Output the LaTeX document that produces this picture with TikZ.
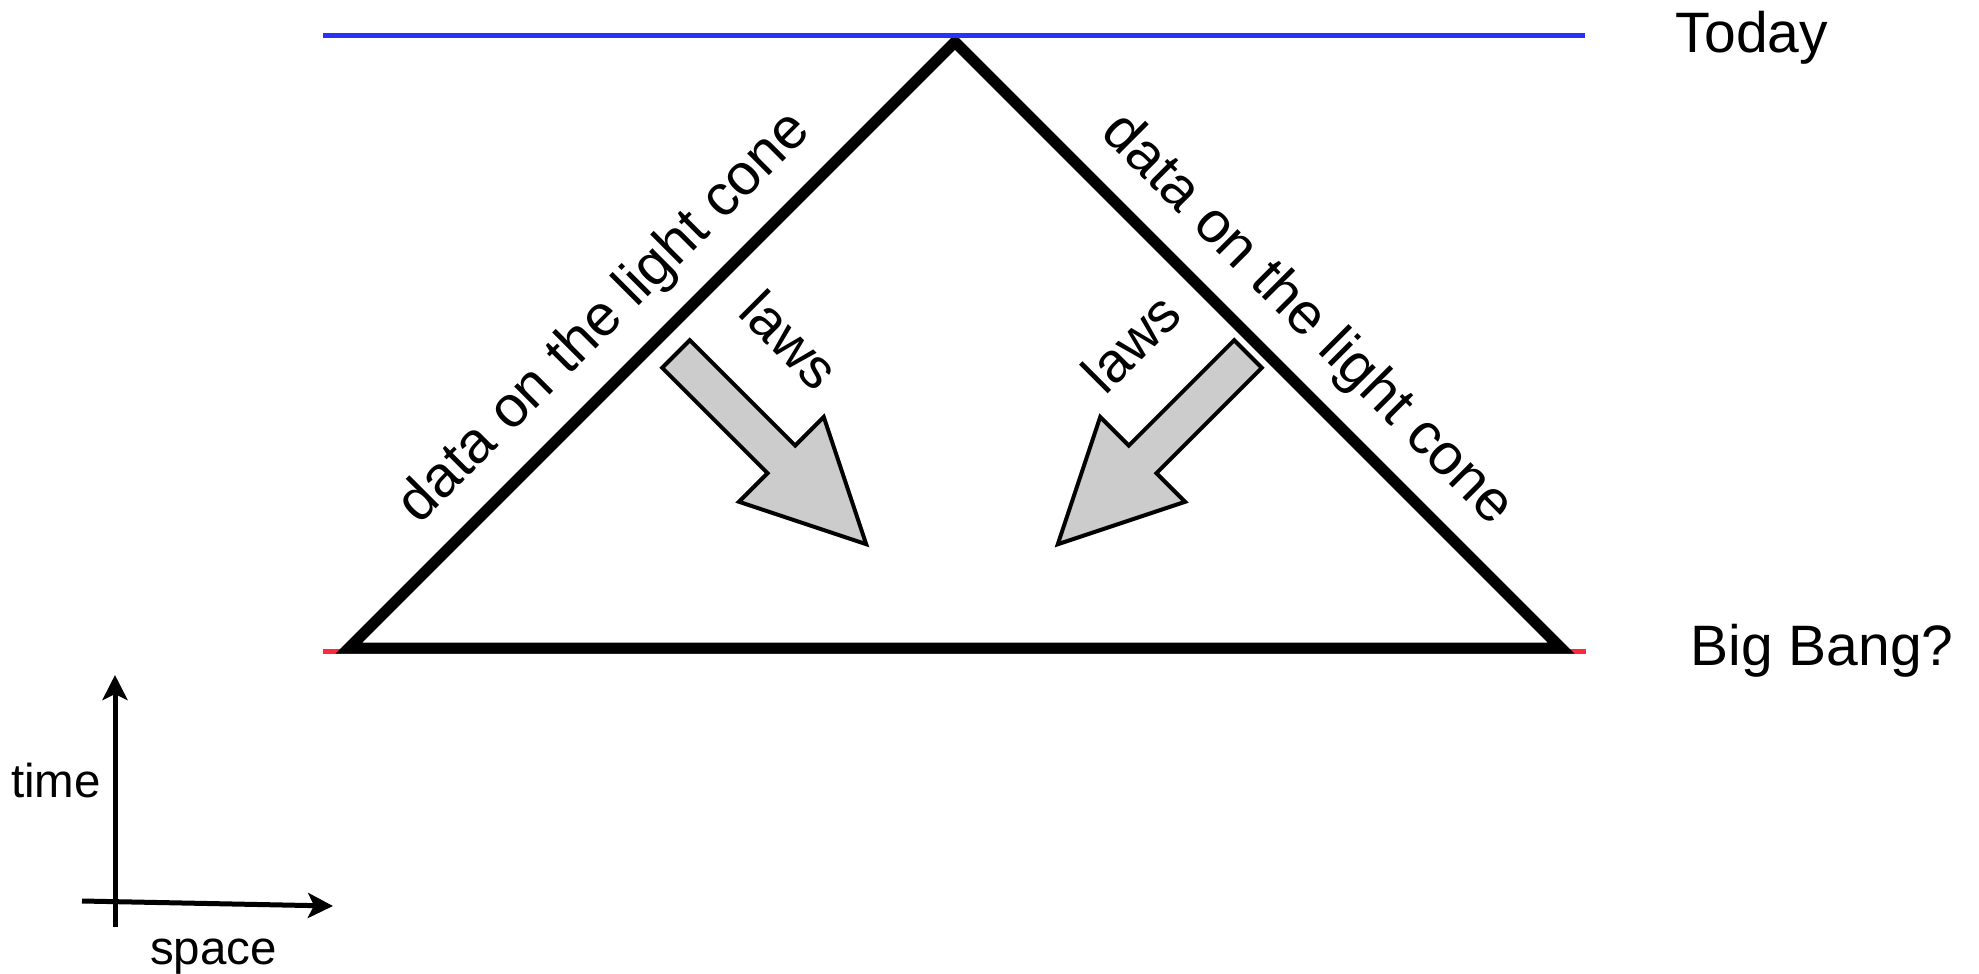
\documentclass[tikz,border=0pt]{standalone}
\usepackage{fontspec}
\setmainfont{Liberation Sans}
\usetikzlibrary{arrows.meta}
\definecolor{todayblue}{RGB}{40,50,250}
\definecolor{bangred}{RGB}{255,40,60}
\definecolor{lawgray}{RGB}{204,204,204}
\begin{document}
\begin{tikzpicture}[x=1pt,y=-1pt,
  cone/.style={line width=11pt, line join=miter},
  epoch/.style={line width=5pt},
  lawarrow/.style={fill=lawgray, draw=black, line width=4pt, line join=miter},
  axis/.style={line width=5pt, -{Stealth[length=25pt,width=25pt,inset=6pt]}},
  lbl/.style={inner sep=0pt, anchor=base},
  big/.style={lbl, font=\fontsize{57}{62}\selectfont},
  conelbl/.style={lbl, font=\fontsize{58}{62}\selectfont},
  lawlbl/.style={lbl, font=\fontsize{56}{60}\selectfont},
  axlbl/.style={lbl, font=\fontsize{47.5}{52}\selectfont}]
\useasboundingbox (0,0) rectangle (1979,974);

% light cone corners and epoch lines
\coordinate (apex) at (955,42);
\coordinate (bl) at (349,648);
\coordinate (br) at (1561,648);
\coordinate (todayL) at (323,36);
\coordinate (todayR) at (1585,36);
\coordinate (bangL) at (323,651.5);
\coordinate (bangR) at (1586,651.5);

\draw[epoch, bangred] (bangL) -- (bangR);
\draw[cone] (apex) -- (bl) -- (br) -- cycle;
\draw[epoch, todayblue] (todayL) -- (todayR);

% epoch labels
\node[big] (today) at (1752,53) {Today};
\node[big] (bang) at (1822,665) {Big Bang?};

% labels along the cone edges
\node[conelbl, rotate=45] (dataL) at (616,329) {data on the light cone};
\node[conelbl, rotate=-45] (dataR) at (1296,331) {data on the light cone};

% block arrows for the laws
\draw[lawarrow] (689.8,340.2) -- (662.2,367.8) -- (767.6,473.2) -- (739.0,501.8)
  -- (866.2,544.2) -- (823.8,417.0) -- (795.2,445.6) -- cycle;
\draw[lawarrow] (1234.2,340.2) -- (1261.8,367.8) -- (1156.4,473.2) -- (1185.0,501.8)
  -- (1057.8,544.2) -- (1100.2,417.0) -- (1128.8,445.6) -- cycle;
\node[lawlbl, rotate=-45] (lawsL) at (776,354) {laws};
\node[lawlbl, rotate=45] (lawsR) at (1145,357) {laws};

% time/space axes
\coordinate (tbot) at (115,927);
\coordinate (ttop) at (115,675);
\coordinate (sleft) at (82,901);
\coordinate (sright) at (333,906);
\draw[axis] (tbot) -- (ttop);
\draw[axis] (sleft) -- (sright);
\node[axlbl] (time) at (56,797) {time};
\node[axlbl] (space) at (213.5,964) {space};
\end{tikzpicture}
\end{document}
